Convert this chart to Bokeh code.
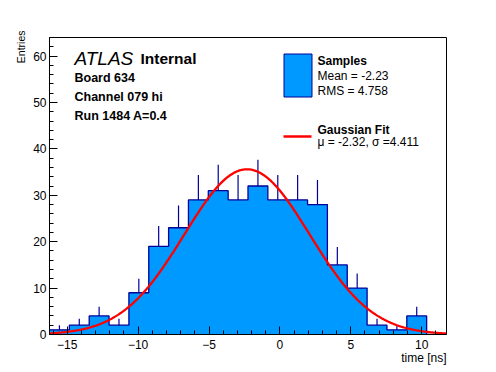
import numpy as np
from bokeh.plotting import figure
from bokeh.models import Range1d, SingleIntervalTicker, Label, BoxAnnotation, Title
from bokeh.embed import file_html
from bokeh.resources import INLINE

# ---------------- data ----------------
bin_low = -16.25
bin_width = 1.4
counts = [1, 2, 4, 2, 9, 19, 23, 29, 31, 29, 32, 29, 29, 28, 15, 10, 2, 1, 4, 0]
fit_mu = -2.32
fit_sigma = 4.411
fit_amp = 35.6
x_lim = (-16.25, 11.75)
y_lim = (0, 64)
x_title = "time [ns]"
y_title = "Entries"
info_lines = ["Board 634", "Channel 079 hi", "Run 1484 A=0.4"]
legend_hist = ["Samples", "Mean = -2.23", "RMS = 4.758"]
legend_fit = ["Gaussian Fit", "\u03bc = -2.32, \u03c3 =4.411"]

FILL = "#0099ff"
EDGE = "#000099"
FONT = "Liberation Sans"

# ---------------- derived ----------------
counts_a = np.array(counts, dtype=float)
edges = bin_low + bin_width * np.arange(len(counts) + 1)
centers = 0.5 * (edges[:-1] + edges[1:])
counts_ext = np.append(counts_a, counts_a[-1])

# frame geometry in canvas pixels (for annotation placement)
W, H = 488, 372
FL, FR, FT, FB = 49, 446, 37, 334
TXT_SHIFT = -4.5


def dx(px):
    return x_lim[0] + (px - FL) * (x_lim[1] - x_lim[0]) / (FR - FL)


def dy(py):
    py = py + TXT_SHIFT
    return y_lim[1] - (py - FT) * (y_lim[1] - y_lim[0]) / (FB - FT)


def dy_raw(py):
    return y_lim[1] - (py - FT) * (y_lim[1] - y_lim[0]) / (FB - FT)


p = figure(width=W, height=H, output_backend="svg", toolbar_location=None,
           x_range=Range1d(*x_lim), y_range=Range1d(*y_lim),
           min_border_left=FL, min_border_right=W - FR,
           min_border_top=FT, min_border_bottom=H - FB)
p.background_fill_color = "white"
p.border_fill_color = "white"
p.xgrid.visible = False
p.ygrid.visible = False
p.outline_line_color = "black"
p.outline_line_width = 1
p.outline_line_alpha = 1

# histogram
p.varea_step(x=edges, y1=np.zeros_like(counts_ext), y2=counts_ext,
             step_mode="after", fill_color=FILL)
p.step(x=edges, y=counts_ext, mode="after", line_color=EDGE, line_width=1.3)
p.segment(x0=centers, y0=counts_a, x1=centers, y1=counts_a + np.sqrt(counts_a),
          line_color=EDGE, line_width=1.2)

# gaussian fit
xs = np.linspace(x_lim[0], x_lim[1], 500)
ys = fit_amp * np.exp(-0.5 * ((xs - fit_mu) / fit_sigma) ** 2)
p.line(xs, ys, line_color="#ff0000", line_width=2.3)

# axes
p.xaxis.ticker = SingleIntervalTicker(interval=5, num_minor_ticks=5)
p.yaxis.ticker = SingleIntervalTicker(interval=10, num_minor_ticks=5)
for ax in (p.xaxis[0], p.yaxis[0]):
    ax.major_tick_in = 8
    ax.major_tick_out = 0
    ax.minor_tick_in = 4
    ax.minor_tick_out = 0
    ax.axis_line_color = "black"
    ax.major_tick_line_color = "black"
    ax.minor_tick_line_color = "black"
    ax.major_label_text_font = FONT
    ax.major_label_text_font_size = "12px"
    ax.major_label_text_color = "black"
p.yaxis.major_label_standoff = 3
p.xaxis.major_label_standoff = 5

# axis titles (ROOT style: aligned to the end of the axis)
p.add_layout(Title(text=x_title, align="right", standoff=-5, text_font=FONT,
                   text_font_style="normal", text_font_size="12px",
                   text_color="black"), "below")
p.add_layout(Title(text=y_title, align="right", standoff=7, offset=-7, text_font=FONT,
                   text_font_style="normal", text_font_size="10.5px",
                   text_color="black"), "left")

# ATLAS block
p.add_layout(Label(x=dx(74), y=dy(62.5), text="ATLAS", text_font=FONT,
                   text_font_style="italic", text_font_size="19px",
                   text_baseline="alphabetic", text_color="black"))
p.add_layout(Label(x=dx(140), y=dy(62.5), text="Internal", text_font=FONT,
                   text_font_style="bold", text_font_size="15.5px",
                   text_baseline="alphabetic", text_color="black"))
for i, t in enumerate(info_lines):
    p.add_layout(Label(x=dx(74), y=dy(81.5 + 19 * i), text=t, text_font=FONT,
                       text_font_style="bold", text_font_size="12.5px",
                       text_baseline="alphabetic", text_color="black"))

# legend
p.add_layout(BoxAnnotation(left=dx(283.5), right=dx(311.5), top=dy_raw(53.5), bottom=dy_raw(96.5),
                           fill_color=FILL, fill_alpha=1, line_color=EDGE,
                           line_alpha=1, line_width=1))
p.segment(x0=[dx(283)], y0=[dy_raw(136)], x1=[dx(311)], y1=[dy_raw(136)],
          line_color="#ff0000", line_width=2.3)
p.add_layout(Label(x=dx(317), y=dy(65), text=legend_hist[0], text_font=FONT,
                   text_font_style="bold", text_font_size="12px",
                   text_baseline="alphabetic", text_color="black"))
p.add_layout(Label(x=dx(317), y=dy(80), text=legend_hist[1], text_font=FONT,
                   text_font_size="12px", text_baseline="alphabetic", text_color="black"))
p.add_layout(Label(x=dx(317), y=dy(94.5), text=legend_hist[2], text_font=FONT,
                   text_font_size="12px", text_baseline="alphabetic", text_color="black"))
p.add_layout(Label(x=dx(317), y=dy(133.5), text=legend_fit[0], text_font=FONT,
                   text_font_style="bold", text_font_size="12px",
                   text_baseline="alphabetic", text_color="black"))
p.add_layout(Label(x=dx(317), y=dy(146), text=legend_fit[1], text_font=FONT,
                   text_font_size="12px", text_baseline="alphabetic", text_color="black"))

open("out.html", "w").write(file_html(p, INLINE))
